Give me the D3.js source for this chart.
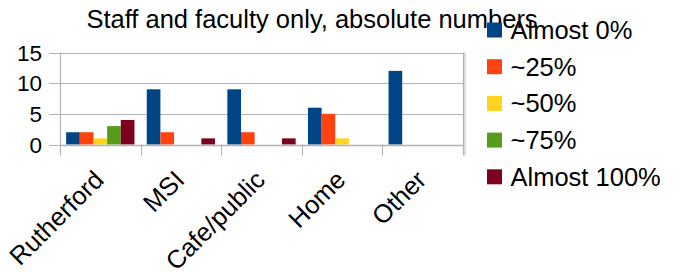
<!DOCTYPE html>
<html>
<head>
<meta charset="utf-8">
<script src="https://cdn.jsdelivr.net/npm/d3@7"></script>
<style>
	body { margin: 0; background: #fff; }
	text { font-family: "Liberation Sans", Arial, sans-serif; fill: #000; }
</style>
</head>
<body>
<div id="chart"></div>
<script>
'use strict'

var categories = ["Rutherford", "MSI", "Cafe/public", "Home", "Other"]
var seriesNames = ["Almost 0%", "~25%", "~50%", "~75%", "Almost 100%"]
var seriesColors = ["#004586", "#ff420e", "#ffd320", "#579d1c", "#7e0021"]
// one array per series, in category order
var almost0 = [2, 9, 9, 6, 12]
var about25 = [2, 2, 2, 5, 0]
var about50 = [1, 0, 0, 1, 0]
var about75 = [3, 0, 0, 0, 0]
var almost100 = [4, 1, 1, 0, 0]
var yTicks = [0, 5, 10, 15]

var seriesValues = [almost0, about25, about50, about75, almost100]

var width = 683, height = 272
var plot = {left: 60, right: 463, top: 52.5, bottom: 144.5}
var gridColor = "#b3b3b3"

var svg = d3.select("#chart").append("svg")
	.attr("width", width)
	.attr("height", height)

var x0 = d3.scaleBand()
	.domain(categories)
	.range([plot.left, plot.right])
	.padding(0)

var x1 = d3.scaleBand()
	.domain(seriesNames)
	.range([0, x0.bandwidth()])
	.paddingInner(0)
	.paddingOuter(0.45)

var y = d3.scaleLinear()
	.domain([0, 15])
	.range([plot.bottom, plot.top])

// gridlines
svg.append("g")
	.selectAll("line")
	.data(yTicks)
	.enter().append("line")
	.attr("x1", plot.left - 11)
	.attr("x2", plot.right)
	.attr("y1", function(d){ return Math.round(y(d)) + 0.5 })
	.attr("y2", function(d){ return Math.round(y(d)) + 0.5 })
	.attr("stroke", gridColor)
	.attr("stroke-width", 1.2)

// y axis labels
svg.append("g")
	.selectAll("text")
	.data(yTicks)
	.enter().append("text")
	.attr("x", 42)
	.attr("y", function(d){ return y(d) + 8 })
	.attr("text-anchor", "end")
	.style("font-size", "22.5px")
	.text(function(d){ return d })

// bars
var groups = svg.append("g")
	.selectAll("g")
	.data(categories)
	.enter().append("g")
	.attr("transform", function(d){ return "translate(" + x0(d) + ",0)" })

groups.selectAll("rect")
	.data(function(c, ci){
		return seriesNames.map(function(s, si){
			return {series: s, value: seriesValues[si][ci], color: seriesColors[si]}
		})
	})
	.enter().append("rect")
	.attr("x", function(d){ return x1(d.series) })
	.attr("width", x1.bandwidth())
	.attr("y", function(d){ return y(d.value) })
	.attr("height", function(d){ return y(0) - y(d.value) })
	.style("fill", function(d){ return d.color })

// x axis line and ticks at band boundaries
var bounds = categories.map(function(c){ return x0(c) }).concat([plot.right])
svg.append("line")
	.attr("x1", plot.left).attr("x2", plot.right)
	.attr("y1", Math.round(y(0)) + 0.5).attr("y2", Math.round(y(0)) + 0.5)
	.attr("stroke", gridColor).attr("stroke-width", 1.5)

svg.append("g")
	.selectAll("line")
	.data(bounds)
	.enter().append("line")
	.attr("x1", function(d){ return Math.round(d) + 0.5 })
	.attr("x2", function(d){ return Math.round(d) + 0.5 })
	.attr("y1", function(d, i){ return (i == 0 || i == bounds.length - 1) ? plot.top : plot.bottom })
	.attr("y2", plot.bottom + 11)
	.attr("stroke", gridColor)
	.attr("stroke-width", 1.2)

// light shadow on the right frame edge
svg.append("line")
	.attr("x1", plot.right + 2).attr("x2", plot.right + 2)
	.attr("y1", plot.top).attr("y2", plot.bottom + 11)
	.attr("stroke", "#dddddd").attr("stroke-width", 2)

// category labels, rotated
svg.append("g")
	.selectAll("text")
	.data(categories)
	.enter().append("text")
	.attr("transform", function(d){
		return "translate(" + (x0(d) + x0.bandwidth() / 2 + 5) + "," + (plot.bottom + 37) + ") rotate(-45)"
	})
	.attr("text-anchor", "end")
	.style("font-size", "25.5px")
	.text(function(d){ return d })

// title
svg.append("text")
	.attr("x", 312)
	.attr("y", 28)
	.attr("text-anchor", "middle")
	.style("font-size", "25.5px")
	.text("Staff and faculty only, absolute numbers")

// legend
var legend = svg.append("g")
	.selectAll("g")
	.data(seriesNames)
	.enter().append("g")
	.attr("transform", function(d, i){ return "translate(487," + (30 + i * 36.7) + ")" })

legend.append("rect")
	.attr("x", 0)
	.attr("y", -7.5)
	.attr("width", 15)
	.attr("height", 15)
	.style("fill", function(d, i){ return seriesColors[i] })

legend.append("text")
	.attr("x", 23.5)
	.attr("y", 9)
	.style("font-size", "25.5px")
	.text(function(d){ return d })
</script>
</body>
</html>
